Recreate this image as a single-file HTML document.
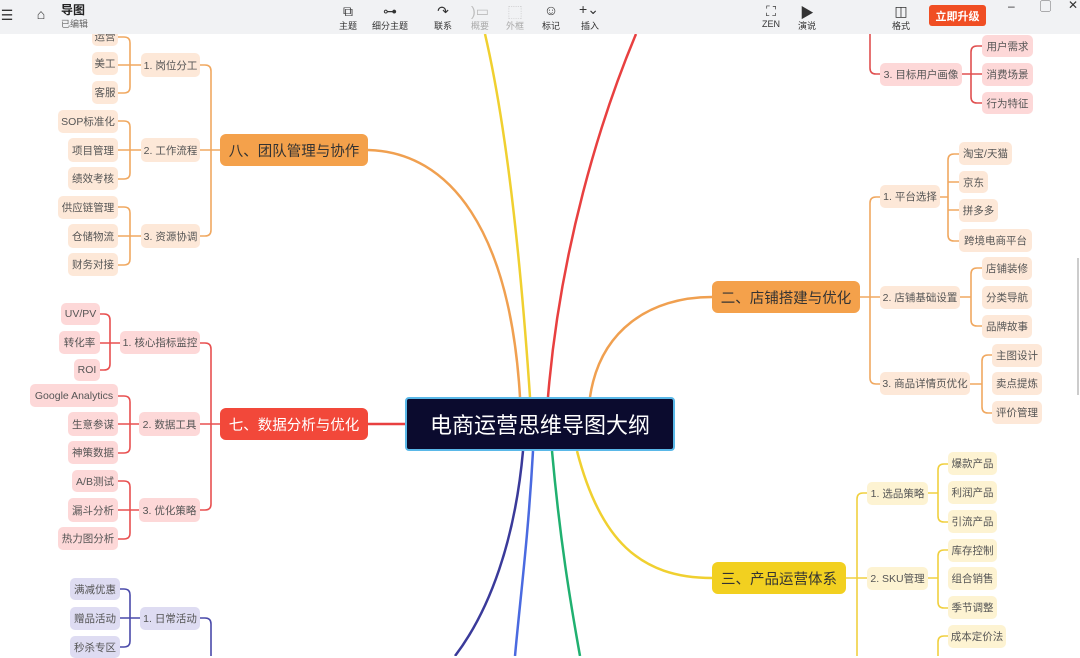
<!DOCTYPE html>
<html><head><meta charset="utf-8">
<style>
*{margin:0;padding:0;box-sizing:border-box}
body{width:1080px;height:656px;overflow:hidden;background:#fff;font-family:"Liberation Sans","Noto Sans CJK SC",sans-serif;position:relative}
#tb{position:absolute;left:0;top:0;width:1080px;height:34px;background:#f1f2f4;z-index:5}
.t{position:absolute;font-size:9px;color:#333;text-align:center}
.ic{position:absolute;font-size:14px;color:#333;text-align:center}
.n{position:absolute;font-size:10.5px;color:#555;display:flex;align-items:center;justify-content:center;border-radius:5px;white-space:nowrap}
.o{background:#fde8d8}
.r{background:#fdd8d8}
.p{background:#dedcf2}
.y{background:#fdf3d2}
.m{position:absolute;display:flex;align-items:center;justify-content:center;border-radius:6px;font-size:14.5px;color:#333}
svg{position:absolute;left:0;top:0}
</style></head><body>
<svg width="1080" height="656" fill="none" stroke-width="1.6">
<path d="M530 397 C520 250 505 120 485 34" stroke="#f0d030" stroke-width="2.5"/>
<path d="M520 397 C510 230 450 152 368 150" stroke="#f0a050" stroke-width="2.5"/>
<path d="M548 397 C560 250 600 120 636 34" stroke="#e84040" stroke-width="2.5"/>
<path d="M590 397 C600 330 650 297 712 297" stroke="#f0a050" stroke-width="2.5"/>
<path d="M405 424 L368 424" stroke="#e84040" stroke-width="2.5"/>
<path d="M523 451 C515 540 490 610 455 656" stroke="#3a3a9a" stroke-width="2.5"/>
<path d="M533 451 C528 540 520 600 515 656" stroke="#4a6ae0" stroke-width="2.5"/>
<path d="M552 451 C560 540 570 600 580 656" stroke="#20b070" stroke-width="2.5"/>
<path d="M577 451 C600 540 640 578 712 578" stroke="#f0d030" stroke-width="2.5"/>
<g stroke="#f0a860">
<path d="M220 150 H211 M200 65 H205 Q211 65 211 71 V230 Q211 236 205 236 H200 M200 150 H211"/>
<path d="M141 65 H130 M118 37 H124 Q130 37 130 43 V87 Q130 93 124 93 H118 M118 65 H130"/>
<path d="M141 150 H130 M118 121 H124 Q130 121 130 127 V173 Q130 179 124 179 H118 M118 150 H130"/>
<path d="M141 236 H130 M118 207 H124 Q130 207 130 213 V259 Q130 265 124 265 H118 M118 236 H130"/>
</g>
<g stroke="#e85050">
<path d="M220 424 H211 M200 343 H205 Q211 343 211 349 V504 Q211 510 205 510 H200 M200 424 H211"/>
<path d="M120 343 H110 M100 314 H104 Q110 314 110 320 V364 Q110 370 104 370 H100 M100 343 H110"/>
<path d="M139 424 H130 M118 396 H124 Q130 396 130 402 V447 Q130 453 124 453 H118 M118 424 H130"/>
<path d="M139 510 H130 M118 481 H124 Q130 481 130 487 V533 Q130 539 124 539 H118 M118 510 H130"/>
</g>
<g stroke="#4a4aaa">
<path d="M200 618 H205 Q211 618 211 624 V656"/>
<path d="M140 618 H130 M120 589 H124 Q130 589 130 595 V641 Q130 647 124 647 H120 M120 618 H130"/>
</g>
<g stroke="#e05050">
<path d="M870 34 V68 Q870 74 876 74 H880"/>
<path d="M962 74 H971 M982 46 H977 Q971 46 971 52 V97 Q971 103 977 103 H982 M982 74 H971"/>
</g>
<g stroke="#f0a860">
<path d="M860 297 H870 M880 197 H876 Q870 197 870 203 V378 Q870 384 876 384 H880 M880 297 H870"/>
<path d="M940 197 H948 M959 154 H954 Q948 154 948 160 V235 Q948 241 954 241 H959 M959 182 H948 M959 210 H948"/>
<path d="M960 297 H971 M982 268 H977 Q971 268 971 274 V320 Q971 326 977 326 H982"/>
<path d="M970 384 H982 M992 355 H988 Q982 355 982 361 V407 Q982 413 988 413 H992"/>
</g>
<g stroke="#f0d040">
<path d="M846 578 H857 M867 493 H863 Q857 493 857 499 V656 M867 578 H857"/>
<path d="M928 493 H938 M948 464 H944 Q938 464 938 470 V516 Q938 522 944 522 H948"/>
<path d="M928 578 H938 M948 550 H944 Q938 550 938 556 V602 Q938 608 944 608 H948"/>
<path d="M948 636 H944 Q938 636 938 642 V656"/>
</g>
</svg>

<div id="tb">
<div class="ic" style="left:0;top:7px;width:14px">☰</div>
<div class="ic" style="left:33px;top:6px;width:16px">⌂</div>
<div style="position:absolute;left:61px;top:1px;font-size:12px;font-weight:bold;color:#222">导图</div>
<div style="position:absolute;left:61px;top:17px;font-size:9px;color:#666">已编辑</div>
<div class="ic" style="left:338px;top:3px;width:20px">⧉</div><div class="t" style="left:333px;top:19px;width:30px">主题</div>
<div class="ic" style="left:380px;top:3px;width:20px">⊶</div><div class="t" style="left:370px;top:19px;width:40px">细分主题</div>
<div class="ic" style="left:433px;top:3px;width:20px">↷</div><div class="t" style="left:428px;top:19px;width:30px">联系</div>
<div class="ic" style="left:470px;top:3px;width:20px;color:#bbb">)▭</div><div class="t" style="left:465px;top:19px;width:30px;color:#aaa">概要</div>
<div class="ic" style="left:505px;top:3px;width:20px;color:#bbb">⬚</div><div class="t" style="left:500px;top:19px;width:30px;color:#aaa">外框</div>
<div class="ic" style="left:541px;top:2px;width:20px">☺</div><div class="t" style="left:536px;top:19px;width:30px">标记</div>
<div class="ic" style="left:576px;top:1px;width:26px">+⌄</div><div class="t" style="left:575px;top:19px;width:30px">插入</div>
<div class="ic" style="left:761px;top:3px;width:20px">⛶</div><div class="t" style="left:756px;top:19px;width:30px">ZEN</div>
<div class="ic" style="left:797px;top:3px;width:20px">▶</div><div class="t" style="left:792px;top:19px;width:30px">演说</div>
<div class="ic" style="left:891px;top:3px;width:20px">◫</div><div class="t" style="left:886px;top:19px;width:30px">格式</div>
<div style="position:absolute;left:929px;top:5px;width:57px;height:21px;background:#f04e23;border-radius:3px;color:#fff;font-size:11px;font-weight:bold;display:flex;align-items:center;justify-content:center">立即升级</div>
<div class="t" style="left:1008px;top:-1px;font-size:12px">–</div>
<div class="t" style="left:1040px;top:-2px;font-size:11px">▢</div>
<div class="t" style="left:1068px;top:-2px;font-size:12px">✕</div>
</div>

<div style="position:absolute;left:1077px;top:258px;width:2px;height:137px;background:#ccc"></div>

<div style="position:absolute;left:405px;top:397px;width:270px;height:54px;background:#0b0b2e;border:2px solid #5ab8e8;border-radius:4px;color:#fff;font-size:22px;display:flex;align-items:center;justify-content:center">电商运营思维导图大纲</div>

<div class="m" style="left:220px;top:134px;width:148px;height:32px;background:#f4a14b">八、团队管理与协作</div>
<div class="m" style="left:220px;top:408px;width:148px;height:32px;background:#f2483a;color:#fff">七、数据分析与优化</div>
<div class="m" style="left:712px;top:281px;width:148px;height:32px;background:#f4a14b">二、店铺搭建与优化</div>
<div class="m" style="left:712px;top:562px;width:134px;height:32px;background:#f2d020">三、产品运营体系</div>

<div class="n o" style="left:141px;top:53px;width:59px;height:24px">1. 岗位分工</div>
<div class="n o" style="left:141px;top:138px;width:59px;height:24px">2. 工作流程</div>
<div class="n o" style="left:141px;top:224px;width:59px;height:24px">3. 资源协调</div>
<div class="n o" style="left:92px;top:26px;width:26px;height:20px">运营</div>
<div class="n o" style="left:92px;top:52px;width:26px;height:23px">美工</div>
<div class="n o" style="left:92px;top:81px;width:26px;height:23px">客服</div>
<div class="n o" style="left:58px;top:110px;width:60px;height:23px">SOP标准化</div>
<div class="n o" style="left:68px;top:138px;width:50px;height:24px">项目管理</div>
<div class="n o" style="left:68px;top:167px;width:50px;height:23px">绩效考核</div>
<div class="n o" style="left:58px;top:196px;width:60px;height:23px">供应链管理</div>
<div class="n o" style="left:68px;top:224px;width:50px;height:24px">仓储物流</div>
<div class="n o" style="left:68px;top:253px;width:50px;height:23px">财务对接</div>

<div class="n r" style="left:120px;top:331px;width:80px;height:23px">1. 核心指标监控</div>
<div class="n r" style="left:139px;top:412px;width:61px;height:24px">2. 数据工具</div>
<div class="n r" style="left:139px;top:498px;width:61px;height:24px">3. 优化策略</div>
<div class="n r" style="left:61px;top:303px;width:39px;height:22px">UV/PV</div>
<div class="n r" style="left:59px;top:331px;width:41px;height:23px">转化率</div>
<div class="n r" style="left:74px;top:359px;width:26px;height:22px">ROI</div>
<div class="n r" style="left:30px;top:384px;width:88px;height:23px">Google Analytics</div>
<div class="n r" style="left:68px;top:412px;width:50px;height:24px">生意参谋</div>
<div class="n r" style="left:68px;top:441px;width:50px;height:23px">神策数据</div>
<div class="n r" style="left:72px;top:470px;width:46px;height:22px">A/B测试</div>
<div class="n r" style="left:68px;top:498px;width:50px;height:24px">漏斗分析</div>
<div class="n r" style="left:58px;top:527px;width:60px;height:23px">热力图分析</div>

<div class="n p" style="left:140px;top:607px;width:60px;height:23px">1. 日常活动</div>
<div class="n p" style="left:70px;top:578px;width:50px;height:22px">满减优惠</div>
<div class="n p" style="left:70px;top:607px;width:50px;height:23px">赠品活动</div>
<div class="n p" style="left:70px;top:636px;width:50px;height:22px">秒杀专区</div>

<div class="n r" style="left:880px;top:63px;width:82px;height:23px">3. 目标用户画像</div>
<div class="n r" style="left:982px;top:35px;width:51px;height:22px">用户需求</div>
<div class="n r" style="left:982px;top:63px;width:51px;height:23px">消费场景</div>
<div class="n r" style="left:982px;top:92px;width:51px;height:22px">行为特征</div>

<div class="n o" style="left:880px;top:185px;width:60px;height:23px">1. 平台选择</div>
<div class="n o" style="left:880px;top:286px;width:80px;height:23px">2. 店铺基础设置</div>
<div class="n o" style="left:880px;top:372px;width:90px;height:23px">3. 商品详情页优化</div>
<div class="n o" style="left:959px;top:142px;width:53px;height:23px">淘宝/天猫</div>
<div class="n o" style="left:959px;top:171px;width:29px;height:22px">京东</div>
<div class="n o" style="left:959px;top:199px;width:39px;height:23px">拼多多</div>
<div class="n o" style="left:959px;top:229px;width:73px;height:23px">跨境电商平台</div>
<div class="n o" style="left:982px;top:257px;width:50px;height:23px">店铺装修</div>
<div class="n o" style="left:982px;top:286px;width:50px;height:23px">分类导航</div>
<div class="n o" style="left:982px;top:315px;width:50px;height:23px">品牌故事</div>
<div class="n o" style="left:992px;top:344px;width:50px;height:23px">主图设计</div>
<div class="n o" style="left:992px;top:372px;width:50px;height:23px">卖点提炼</div>
<div class="n o" style="left:992px;top:401px;width:50px;height:23px">评价管理</div>

<div class="n y" style="left:867px;top:482px;width:61px;height:23px">1. 选品策略</div>
<div class="n y" style="left:867px;top:567px;width:61px;height:23px">2. SKU管理</div>
<div class="n y" style="left:948px;top:452px;width:49px;height:23px">爆款产品</div>
<div class="n y" style="left:948px;top:481px;width:49px;height:23px">利润产品</div>
<div class="n y" style="left:948px;top:510px;width:49px;height:23px">引流产品</div>
<div class="n y" style="left:948px;top:539px;width:49px;height:23px">库存控制</div>
<div class="n y" style="left:948px;top:567px;width:49px;height:23px">组合销售</div>
<div class="n y" style="left:948px;top:596px;width:49px;height:23px">季节调整</div>
<div class="n y" style="left:948px;top:625px;width:58px;height:23px">成本定价法</div>
</body></html>
